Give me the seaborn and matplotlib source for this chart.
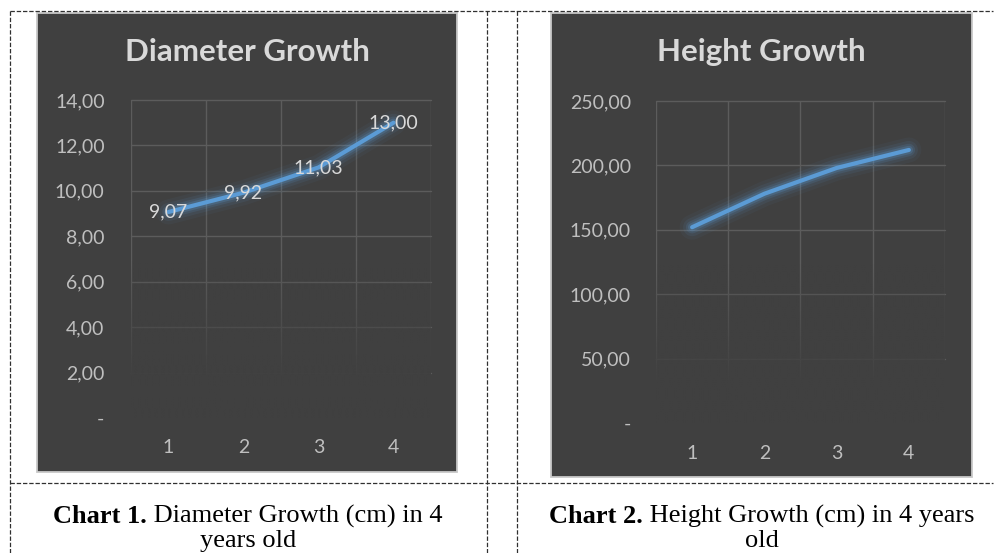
import numpy as np
import pandas as pd
import seaborn as sns
import matplotlib
matplotlib.use("Agg")
import matplotlib.pyplot as plt
from matplotlib.patches import Rectangle
from matplotlib.lines import Line2D
import matplotlib.patheffects as pe

# ---------------- data ----------------
years = [1, 2, 3, 4]
diameter = [9.07, 9.92, 11.03, 13.00]
diameter_labels = ["9,07", "9,92", "11,03", "13,00"]
height = [152.0, 178.0, 198.0, 212.0]
diam_ticks = [0, 2, 4, 6, 8, 10, 12, 14]
diam_ticklabels = ["-", "2,00", "4,00", "6,00", "8,00", "10,00", "12,00", "14,00"]
height_ticks = [0, 50, 100, 150, 200, 250]
height_ticklabels = ["-", "50,00", "100,00", "150,00", "200,00", "250,00"]
titles = ["Diameter Growth", "Height Growth"]
captions = [("Chart 1.", " Diameter Growth (cm) in 4", "years old"),
            ("Chart 2.", " Height Growth (cm) in 4 years", "old")]

# ---------------- style ----------------
sns.set_style("white")
plt.rcParams["font.family"] = ["Lato", "DejaVu Sans"]

W, H = 995, 553
DPI = 100
BG = "#404040"
GRID = "#5c5c5c"
TICK = "#BFBFBF"
TXT = "#D9D9D9"
LINE = "#5B9BD5"
FS = 14

fig = plt.figure(figsize=(W / DPI, H / DPI), dpi=DPI, facecolor="white")


def fx(px):
    return px / W


def fy(py):
    return 1 - py / H


def add_box(x0, y0, x1, y1):
    r = Rectangle((fx(x0), fy(y1)), fx(x1) - fx(x0), fy(y0) - fy(y1),
                  transform=fig.transFigure, facecolor=BG,
                  edgecolor="#C8C8C8", linewidth=1.3, zorder=-1)
    fig.add_artist(r)


def make_axes(x0, y0, x1, y1):
    return fig.add_axes([fx(x0), fy(y1), fx(x1) - fx(x0), fy(y0) - fy(y1)])


def style_axes(ax, ymax, ticks, ticklabels, ypad, xpad):
    ax.set_facecolor(BG)
    ax.set_xlim(0.5, 4.5)
    ax.set_ylim(0, ymax)
    ax.set_xticks(years)
    ax.set_xticklabels([str(y) for y in years])
    ax.set_xticks([0.5, 1.5, 2.5, 3.5, 4.5], minor=True)
    ax.set_yticks(ticks)
    ax.set_yticklabels(ticklabels)
    ax.tick_params(axis="both", which="both", length=0, colors=TICK,
                   labelsize=FS)
    ax.tick_params(axis="y", pad=ypad)
    ax.tick_params(axis="x", pad=xpad)
    ax.set_axisbelow(True)
    ax.grid(axis="y", which="major", color=GRID, linewidth=1.0, clip_on=False)
    ax.grid(axis="x", which="minor", color=GRID, linewidth=1.0)
    ax.grid(axis="x", which="major", visible=False)
    ax.get_ygridlines()[0].set_visible(False)
    for s in ax.spines.values():
        s.set_visible(False)
    ax.set_xlabel("")
    ax.set_ylabel("")
    # fading overlay for the lower part of the grid
    n = 200
    f = np.linspace(0, 1, n)  # 0 bottom -> 1 top
    alpha = np.clip((0.50 - f) / (0.50 - 0.13), 0, 1)
    rgba = np.zeros((n, 2, 4))
    c = matplotlib.colors.to_rgb(BG)
    rgba[..., 0], rgba[..., 1], rgba[..., 2] = c
    rgba[..., 3] = alpha[:, None]
    ax.imshow(rgba, extent=[0.5, 4.5, -ymax * 0.01, ymax * 0.995],
              origin="lower", aspect="auto", zorder=3, interpolation="bilinear")
    ax.set_xlim(0.5, 4.5)
    ax.set_ylim(0, ymax)


glow = [pe.Stroke(linewidth=18, foreground=LINE, alpha=0.05),
        pe.Stroke(linewidth=13, foreground=LINE, alpha=0.09),
        pe.Stroke(linewidth=9, foreground=LINE, alpha=0.14),
        pe.Stroke(linewidth=6, foreground=LINE, alpha=0.22),
        pe.Normal()]

# ---------------- left chart ----------------
add_box(37, 13, 457, 472)
ax1 = make_axes(131, 100, 431, 418)
df1 = pd.DataFrame({"year": years, "value": diameter})
sns.lineplot(data=df1, x="year", y="value", ax=ax1, color=LINE, linewidth=3.0,
             zorder=5)
ax1.lines[0].set_path_effects(glow)
ax1.lines[0].set_solid_capstyle("round")
style_axes(ax1, 14, diam_ticks, diam_ticklabels, ypad=19, xpad=15)
for x, y, lab in zip(years, diameter, diameter_labels):
    ax1.text(x, y, lab, ha="center", va="center", color=TXT, fontsize=FS,
             zorder=6)

# ---------------- right chart ----------------
add_box(551, 13, 972, 477)
ax2 = make_axes(656, 101, 945, 423)
df2 = pd.DataFrame({"year": years, "value": height})
sns.lineplot(data=df2, x="year", y="value", ax=ax2, color=LINE, linewidth=3.0,
             zorder=5)
ax2.lines[0].set_path_effects(glow)
ax2.lines[0].set_solid_capstyle("round")
style_axes(ax2, 250, height_ticks, height_ticklabels, ypad=18, xpad=16)

# titles
fig.text(fx(247), fy(52), titles[0], ha="center", va="center", color=TXT,
         fontsize=22.5, fontweight="bold")
fig.text(fx(761), fy(52), titles[1], ha="center", va="center", color=TXT,
         fontsize=22.5, fontweight="bold")

# ---------------- table dashed lines ----------------
dash = dict(color="#303030", linewidth=0.9, linestyle=(0, (3.5, 1.5)),
            transform=fig.transFigure)
fig.add_artist(Line2D([fx(10), fx(993)], [fy(11), fy(11)], **dash))
fig.add_artist(Line2D([fx(10), fx(993)], [fy(483), fy(483)], **dash))
for xv in (10, 487, 517):
    fig.add_artist(Line2D([fx(xv), fx(xv)], [fy(11), fy(553)], **dash))

# ---------------- captions ----------------
renderer = fig.canvas.get_renderer()
serif = ["Liberation Serif", "DejaVu Serif"]
for (bold, reg, line2), cx in zip(captions, (248, 762)):
    t1 = fig.text(0, fy(523), bold, fontsize=19, fontweight="bold",
                  family=serif, ha="left", va="baseline", color="black")
    t2 = fig.text(0, fy(523), reg, fontsize=19, family=serif,
                  ha="left", va="baseline", color="black")
    w1 = t1.get_window_extent(renderer).width
    w2 = t2.get_window_extent(renderer).width
    start = cx - (w1 + w2) / 2
    t1.set_x(fx(start))
    t2.set_x(fx(start + w1))
    fig.text(fx(cx), fy(547), line2, fontsize=19, family=serif,
             ha="center", va="baseline", color="black")

fig.savefig("out.png", dpi=DPI, facecolor="white")
